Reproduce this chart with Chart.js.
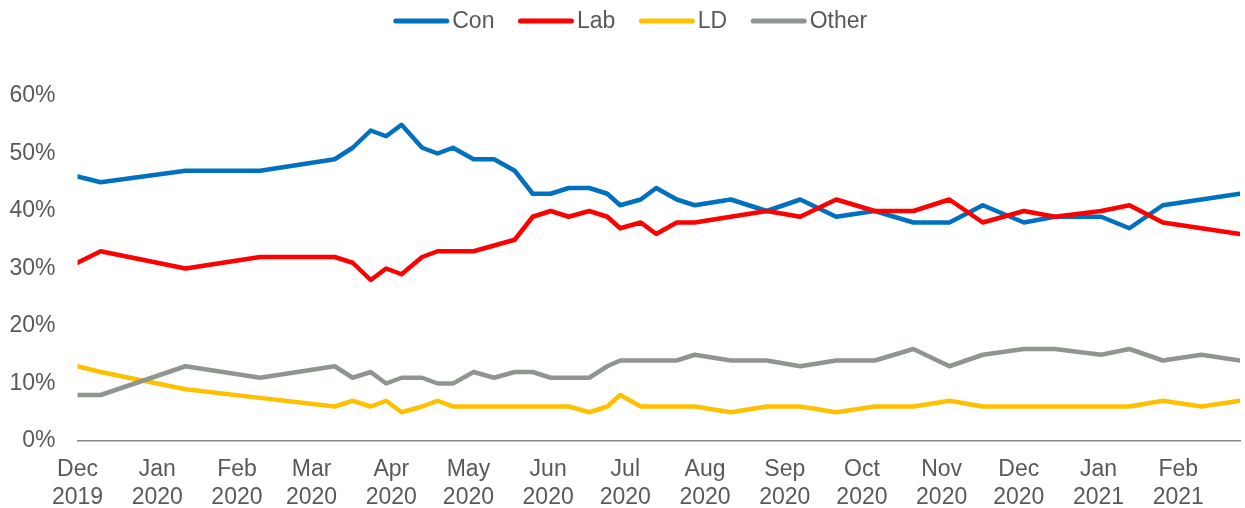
<!DOCTYPE html>
<html>
<head>
<meta charset="utf-8">
<script src="https://cdn.jsdelivr.net/npm/chart.js@4.4.1/dist/chart.umd.min.js"></script>
<style>
  html, body { margin: 0; padding: 0; background: #ffffff; }
  #wrap { width: 1245px; height: 508px; }
</style>
</head>
<body>
<div id="wrap"><canvas id="chart"></canvas></div>
<script>
// Poll fieldwork dates
const pollDates = [
  '2019-12-01','2019-12-10','2020-01-12','2020-02-10','2020-03-10','2020-03-17',
  '2020-03-24','2020-03-30','2020-04-05','2020-04-13','2020-04-19','2020-04-25',
  '2020-05-03','2020-05-11','2020-05-19','2020-05-26','2020-06-02','2020-06-09',
  '2020-06-17','2020-06-24','2020-06-29','2020-07-07','2020-07-13','2020-07-21',
  '2020-07-28','2020-08-11','2020-08-25','2020-09-07','2020-09-21','2020-10-06',
  '2020-10-21','2020-11-04','2020-11-17','2020-12-03','2020-12-15','2021-01-02',
  '2021-01-13','2021-01-26','2021-02-10','2021-02-25'
];

// Vote share, %
const con = [46,45,47,47,49,51,54,53,55,51,50,51,49,49,47,43,43,44,44,43,41,42,44,42,41,42,40,42,39,40,38,38,41,38,39,39,37,41,42,43];
const lab = [31,33,30,32,32,31,28,30,29,32,33,33,33,34,35,39,40,39,40,39,37,38,36,38,38,39,40,39,42,40,40,42,38,40,39,40,41,38,37,36];
const ld  = [13,12,9,7.5,6,7,6,7,5,6,7,6,6,6,6,6,6,6,5,6,8,6,6,6,6,5,6,6,5,6,6,7,6,6,6,6,6,7,6,7];
const other = [8,8,13,11,13,11,12,10,11,11,10,10,12,11,12,12,11,11,11,13,14,14,14,14,15,14,14,13,14,14,16,13,15,16,16,15,16,14,15,14];

// Month ticks along the date axis
const monthTicks = [
  ['Dec','2019'],['Jan','2020'],['Feb','2020'],['Mar','2020'],['Apr','2020'],
  ['May','2020'],['Jun','2020'],['Jul','2020'],['Aug','2020'],['Sep','2020'],
  ['Oct','2020'],['Nov','2020'],['Dec','2020'],['Jan','2021'],['Feb','2021']
];
const monthNums = {Jan:0,Feb:1,Mar:2,Apr:3,May:4,Jun:5,Jul:6,Aug:7,Sep:8,Oct:9,Nov:10,Dec:11};

const DAY = 86400000;
const origin = Date.UTC(2019, 11, 1);
const dayOf = s => (Date.parse(s + 'T00:00:00Z') - origin) / DAY;
const tickDays = monthTicks.map(([m, y]) => (Date.UTC(+y, monthNums[m], 1) - origin) / DAY);
const days = pollDates.map(dayOf);

const toPoints = vals => vals.map((v, i) => ({ x: days[i], y: v }));

const TEXT = '#595959';
const FONT = "'Liberation Sans', Arial, sans-serif";
const FONT_SIZE = 23;

const series = [
  { label: 'Con', values: con, color: '#0070C0' },
  { label: 'Lab', values: lab, color: '#FF0000' },
  { label: 'LD', values: ld, color: '#FFC000' },
  { label: 'Other', values: other, color: '#8F968F' }
];

// Legend row: short line sample followed closely by its name
const lineLegend = {
  id: 'lineLegend',
  afterDraw(chart) {
    const ctx = chart.ctx;
    const sample = 51, gap = 5.5, spacing = 26, cy = 21;
    ctx.save();
    ctx.font = FONT_SIZE + 'px ' + FONT;
    const items = chart.data.datasets.map(ds => ({
      text: ds.label, color: ds.borderColor, w: ctx.measureText(ds.label).width
    }));
    const total = items.reduce((s, it) => s + sample + gap + it.w, 0) + spacing * (items.length - 1);
    let x = (chart.width - total) / 2 + 9;
    ctx.textBaseline = 'middle';
    ctx.textAlign = 'left';
    items.forEach(it => {
      ctx.beginPath();
      ctx.strokeStyle = it.color;
      ctx.lineWidth = 5;
      ctx.lineCap = 'round';
      ctx.moveTo(x, cy);
      ctx.lineTo(x + sample, cy);
      ctx.stroke();
      ctx.fillStyle = TEXT;
      ctx.fillText(it.text, x + sample + gap, cy + 1);
      x += sample + gap + it.w + spacing;
    });
    ctx.restore();
  }
};

new Chart(document.getElementById('chart'), {
  type: 'line',
  data: {
    datasets: series.map((s, i) => ({
      label: s.label,
      data: toPoints(s.values),
      borderColor: s.color,
      backgroundColor: s.color,
      borderWidth: 4.5,
      borderCapStyle: 'round',
      borderJoinStyle: 'round',
      pointRadius: 0,
      pointHoverRadius: 0,
      tension: 0,
      fill: false,
      order: series.length - 1 - i
    }))
  },
  plugins: [lineLegend],
  options: {
    responsive: true,
    maintainAspectRatio: false,
    animation: false,
    layout: { padding: { top: 96, left: 0, right: 5, bottom: 0 } },
    plugins: {
      tooltip: { enabled: false },
      legend: { display: false }
    },
    scales: {
      x: {
        type: 'linear',
        min: 0,
        max: days[days.length - 1],
        grid: { display: false, drawTicks: false },
        border: { display: true, color: '#868686', width: 1.5 },
        afterBuildTicks(scale) {
          scale.ticks = tickDays.map(v => ({ value: v }));
        },
        afterFit(scale) { scale.height = 67; },
        ticks: {
          autoSkip: false,
          maxRotation: 0,
          minRotation: 0,
          padding: 15,
          color: TEXT,
          font: { family: FONT, size: FONT_SIZE },
          callback(value) {
            const idx = tickDays.indexOf(value);
            return idx >= 0 ? monthTicks[idx] : '';
          }
        }
      },
      y: {
        min: 0,
        max: 60,
        grid: { display: false, drawTicks: false },
        border: { display: false },
        afterFit(scale) { scale.width = 77.5; },
        ticks: {
          stepSize: 10,
          padding: 22,
          color: TEXT,
          font: { family: FONT, size: FONT_SIZE },
          callback: v => v + '%'
        }
      }
    }
  }
});
</script>
</body>
</html>
